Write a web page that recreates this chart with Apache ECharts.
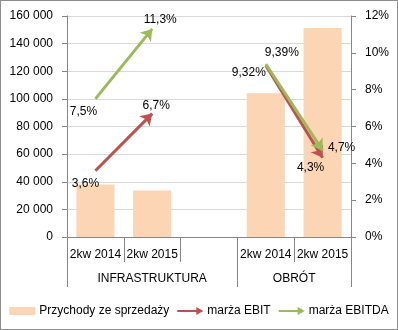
<!DOCTYPE html>
<html><head><meta charset="utf-8">
<script src="https://cdn.jsdelivr.net/npm/echarts@6/dist/echarts.min.js"></script>
<style>html,body{margin:0;padding:0;background:#fff}#c{width:398px;height:330px;box-sizing:border-box;border:1px solid #8c8c8c;background:#fff}</style>
</head><body><div id="c"></div>
<script>
const categories = ['2kw 2014', '2kw 2015', '', '2kw 2014', '2kw 2015'];
const groups = ['INFRASTRUKTURA', 'OBRÓT'];
const groupSpans = [3, 2];
const revenue = [38000, 33700, null, 104000, 151400];
const ebit = [3.6, 6.7, null, 9.32, 4.3];
const ebitda = [7.5, 11.3, null, 9.39, 4.7];
const leftTicks = { min: 0, max: 160000, interval: 20000 };
const rightTicks = { min: 0, max: 12, interval: 2 };

const FONT = 'Liberation Sans';
const AX = '#868686';
const fmtPct = v => String(v).replace('.', ',') + '%';

const bounds = [0]; groupSpans.forEach(s => bounds.push(bounds[bounds.length - 1] + s));
const centers = groupSpans.map((s, i) => bounds[i] + s / 2);

function pairs(arr) {
  const out = [];
  for (let i = 0; i < arr.length - 1; i++) {
    if (arr[i] != null && arr[i + 1] != null) out.push([{ coord: [i, arr[i]] }, { coord: [i + 1, arr[i + 1]] }]);
  }
  return out;
}
function lineSeries(name, values, color, offsets) {
  return {
    name, type: 'line', xAxisIndex: 0, yAxisIndex: 1,
    data: values.map((v, i) => v == null ? null : { value: v, label: { offset: offsets[i] } }),
    symbol: 'circle', symbolSize: 1,
    itemStyle: { color: 'rgba(0,0,0,0)' },
    lineStyle: { opacity: 0 },
    connectNulls: false,
    silent: true,
    label: { show: true, position: 'inside', color: '#000', fontFamily: FONT, fontSize: 12, formatter: p => fmtPct(p.value) },
    markLine: {
      silent: true, symbol: ['none', 'arrow'], symbolSize: 11,
      label: { show: false },
      lineStyle: { color, width: 3, type: 'solid', opacity: 1 },
      itemStyle: { color },
      emphasis: { disabled: true },
      data: pairs(values)
    },
    z: 3
  };
}

const chart = echarts.init(document.getElementById('c'), null, { renderer: 'canvas' });
const arrowIcon = 'path://M0,3 L19,3 L19,0 L26,4 L19,8 L19,5 L0,5 Z';
chart.setOption({
  animation: false,
  grid: { left: 66, right: 46, top: 15, bottom: 92 },
  legend: {
    top: 304, left: 'center', padding: 0, itemGap: 8, itemWidth: 26, itemHeight: 8, width: 390,
    textStyle: { fontFamily: FONT, fontSize: 12, color: '#000', padding: [0, 0, 0, -1] },
    data: [
      { name: 'Przychody ze sprzedaży', icon: 'rect', itemStyle: { color: '#FCD5B5' } },
      { name: 'marża EBIT', icon: arrowIcon, itemStyle: { color: '#C0504D' } },
      { name: 'marża EBITDA', icon: arrowIcon, itemStyle: { color: '#9BBB59' } }
    ],
    selectedMode: false
  },
  xAxis: [
    {
      type: 'category', data: categories, boundaryGap: true,
      axisLine: { lineStyle: { color: AX } },
      axisTick: { show: true, interval: 0, length: 25, lineStyle: { color: AX } },
      axisLabel: { interval: 0, color: '#000', fontFamily: FONT, fontSize: 12, margin: 12 }
    },
    {
      type: 'value', min: 0, max: bounds[bounds.length - 1], position: 'bottom',
      axisLine: { show: false }, splitLine: { show: false },
      axisTick: { show: true, customValues: bounds, length: 50, lineStyle: { color: AX } },
      axisLabel: {
        customValues: centers, color: '#000', fontFamily: FONT, fontSize: 12, margin: 36,
        formatter: v => groups[centers.indexOf(v)] || ''
      }
    }
  ],
  yAxis: [
    {
      type: 'value', min: leftTicks.min, max: leftTicks.max, interval: leftTicks.interval,
      axisLine: { show: true, lineStyle: { color: AX } },
      axisTick: { show: true, length: 5, lineStyle: { color: AX } },
      splitLine: { lineStyle: { color: '#d9d9d9' } },
      axisLabel: { color: '#000', fontFamily: FONT, fontSize: 12, margin: 14,
        formatter: v => String(v).replace(/\B(?=(\d{3})+(?!\d))/g, ' ') }
    },
    {
      type: 'value', min: rightTicks.min, max: rightTicks.max, interval: rightTicks.interval,
      position: 'right',
      axisLine: { show: true, lineStyle: { color: AX } },
      axisTick: { show: true, length: 5, lineStyle: { color: AX } },
      splitLine: { show: false },
      axisLabel: { color: '#000', fontFamily: FONT, fontSize: 12, margin: 14, formatter: v => v + '%' }
    }
  ],
  series: [
    {
      name: 'Przychody ze sprzedaży', type: 'bar', xAxisIndex: 0, yAxisIndex: 0,
      data: revenue, barCategoryGap: '33%', itemStyle: { color: '#FCD5B5' }, silent: true, z: 2
    },
    lineSeries('marża EBIT', ebit, '#C0504D', [[-10, 13], [4, -8], null, [-17, 7], [-12, 10]]),
    lineSeries('marża EBITDA', ebitda, '#9BBB59', [[-12, 13], [8, -9], null, [16, -11], [19, -3]])
  ]
});
</script></body></html>
